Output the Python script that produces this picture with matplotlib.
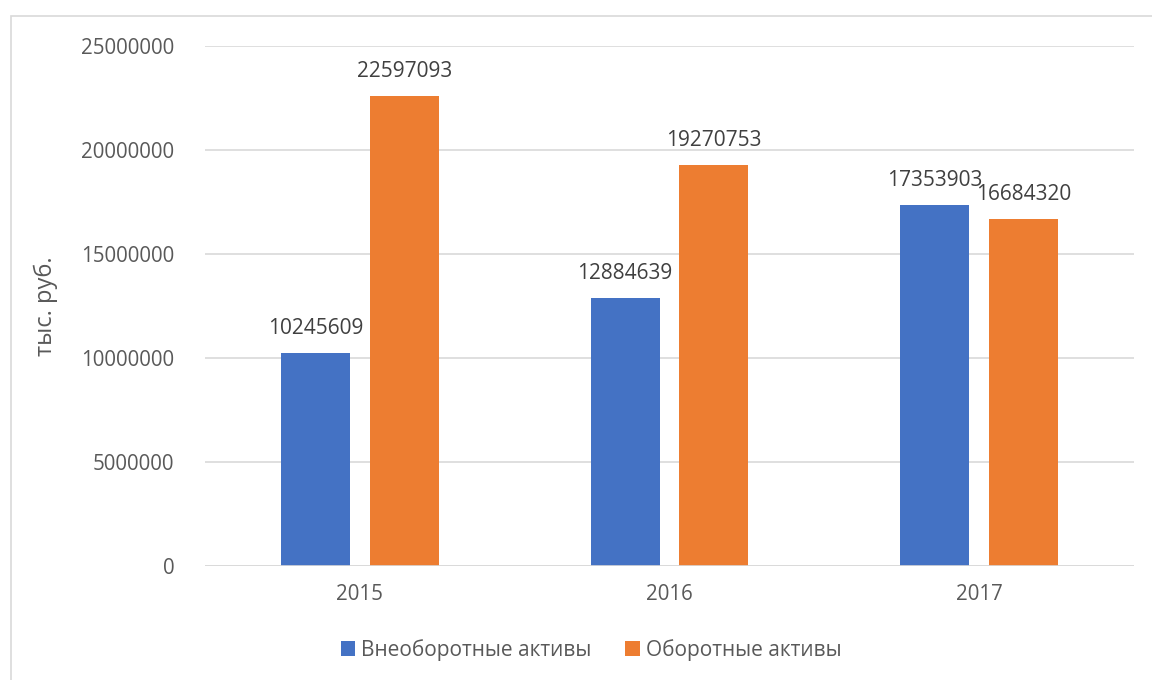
import matplotlib
matplotlib.use("Agg")
import matplotlib.pyplot as plt
import numpy as np
from matplotlib.patches import Rectangle

years = ["2015", "2016", "2017"]
non_current = [10245609, 12884639, 17353903]
current = [22597093, 19270753, 16684320]
series_names = ["Внеоборотные активы", "Оборотные активы"]
y_ticks = [0, 5000000, 10000000, 15000000, 20000000, 25000000]

plt.rcParams['font.family'] = ['Open Sans', 'DejaVu Sans']
txt = '#595959'
blue = '#4472C4'
orange = '#ED7D31'

fig = plt.figure(figsize=(11.52, 6.8), dpi=100)
ax = fig.add_axes([205/1152, 1-566/680, (1134-205)/1152, (566-46)/680])

x = np.arange(len(years))
w = 0.223
off = 0.1435
b1 = ax.bar(x - off, non_current, w, color=blue, label=series_names[0], zorder=3)
b2 = ax.bar(x + off, current, w, color=orange, label=series_names[1], zorder=3)

for bars in (b1, b2):
    for r in bars:
        ax.annotate(f"{int(r.get_height())}", (r.get_x() + r.get_width()/2, r.get_height()),
                    xytext=(0, 17.5), textcoords='offset points', ha='center', va='center',
                    fontsize=15, color='#404040')

ax.set_xlim(-0.5, 2.5)
ax.set_ylim(0, 25000000)
ax.set_yticks(y_ticks)
ax.set_yticklabels([str(v) for v in y_ticks])
ax.set_xticks(x)
ax.set_xticklabels(years)
ax.tick_params(length=0, labelsize=14.8, colors=txt)
ax.tick_params(axis='y', pad=22)
ax.tick_params(axis='x', pad=13)
ax.grid(axis='y', color='#d9d9d9', linewidth=1.2, zorder=0)
for s in ax.spines.values():
    s.set_visible(False)
ax.axhline(0, color='#d9d9d9', linewidth=1.2, zorder=4)

fig.text(46/1152, 1-306/680, "тыс. руб.", rotation=90, ha='center', va='center',
         fontsize=17, color=txt)

leg = fig.legend(handles=[b1, b2], labels=series_names, loc='center',
                 bbox_to_anchor=(591/1152, 1-650/680), ncol=2, frameon=False,
                 fontsize=15, handlelength=0.7, handleheight=0.7,
                 handletextpad=0.3, columnspacing=1.6)
for t in leg.get_texts():
    t.set_color(txt)

fig.patches.append(Rectangle((11/1152, -0.1), 1.2, 1 - 16/680 + 0.1, transform=fig.transFigure,
                             fill=False, edgecolor='#d9d9d9', linewidth=1.2))

fig.savefig("out.png", dpi=100)
